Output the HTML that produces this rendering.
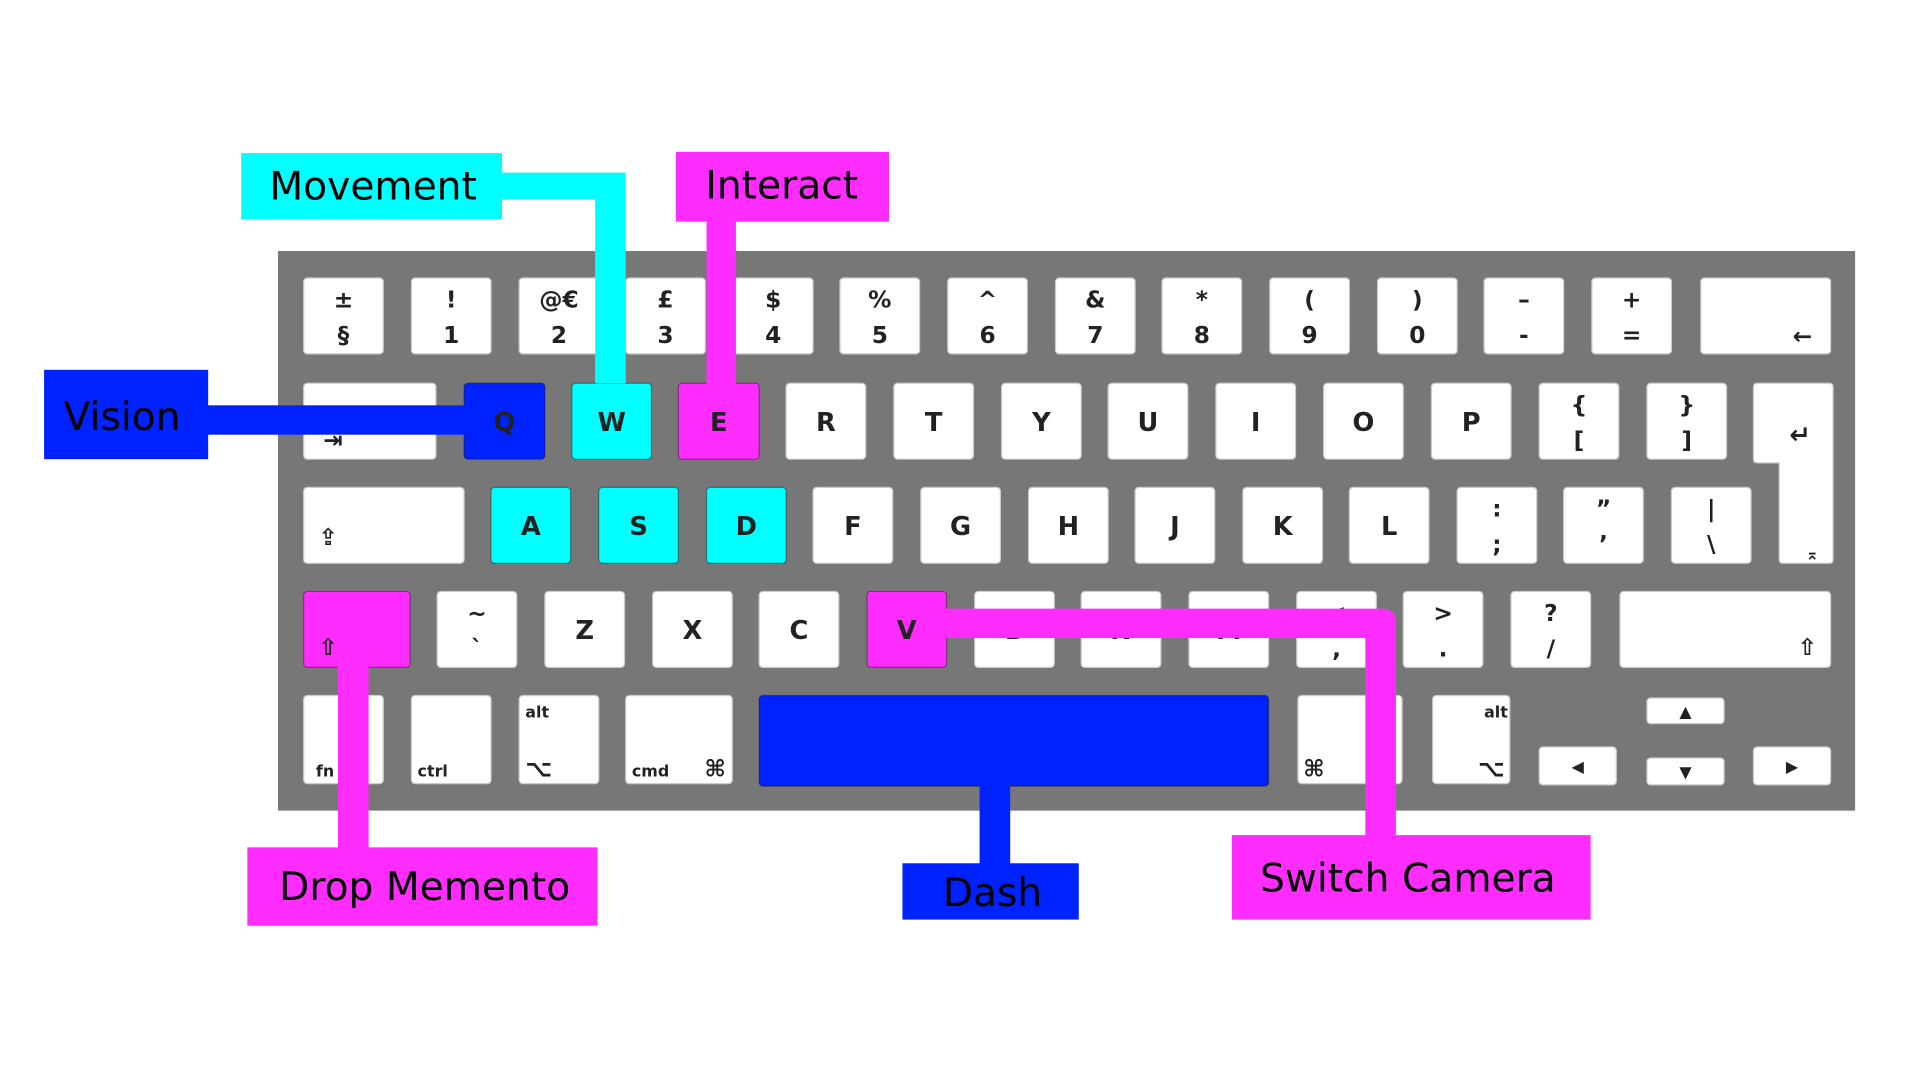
<!DOCTYPE html>
<html><head><meta charset="utf-8"><style>
html,body{margin:0;padding:0;background:#fff;}
svg{display:block;}
text{font-family:"DejaVu Sans","Liberation Sans",sans-serif;}
.k{font-weight:bold;font-size:21px;fill:#222;text-anchor:middle;}
.s{font-weight:bold;font-size:19px;fill:#222;text-anchor:middle;}
.m{font-weight:bold;font-size:13px;fill:#222;}
.lab{font-size:32px;fill:#000;}
</style></head><body>
<svg id="kb" width="1920" height="1080" viewBox="0 0 1568 882" preserveAspectRatio="none" xmlns="http://www.w3.org/2000/svg">
<rect x="227" y="205" width="1288" height="457" fill="#777"/>
<g id="keys"></g>
<g>
<path d="M405 141 H511 V313 H486 V163 H405 Z" fill="#00ffff"/>
<rect x="577" y="178" width="24" height="136" fill="#ff2cff"/>
<rect x="168" y="331" width="222" height="24" fill="#0022ff"/>
<rect x="276" y="540" width="25" height="155" fill="#ff2cff"/>
<rect x="800" y="638" width="25" height="70" fill="#0022ff"/>
<path d="M770 497 H1128 Q1140 497 1140 509 V685 H1115 V521 H770 Z" fill="#ff2cff"/>
</g>
<g>
<rect x="197" y="125" width="213" height="54" fill="#00ffff"/>
<text class="lab" x="220" y="163">Movement</text>
<rect x="552" y="124" width="174" height="57" fill="#ff2cff"/>
<text class="lab" x="576" y="162">Interact</text>
<rect x="36" y="302" width="134" height="73" fill="#0022ff"/>
<text class="lab" x="52" y="351">Vision</text>
<rect x="202" y="692" width="286" height="64" fill="#ff2cff"/>
<text class="lab" x="228" y="735">Drop Memento</text>
<rect x="737" y="705" width="144" height="46" fill="#0022ff"/>
<text class="lab" x="770" y="740">Dash</text>
<rect x="1006" y="682" width="293" height="69" fill="#ff2cff"/>
<text class="lab" x="1029" y="728">Switch Camera</text>
</g>
</svg>
<script>
var NS="http://www.w3.org/2000/svg";
var g=document.getElementById('keys');
var W="#fff",C="#00ffff",M="#ff2cff",B="#0022ff";
var keys=[
[248,227,65,62,W,"±","§","key-section"],[336,227,65,62,W,"!","1","key-1"],[424,227,65,62,W,"@€","2","key-2"],
[511,227,65,62,W,"£","3","key-3"],[599,227,65,62,W,"$","4","key-4"],[686,227,65,62,W,"%","5","key-5"],
[774,227,65,62,W,"^","6","key-6"],[862,227,65,62,W,"&","7","key-7"],[949,227,65,62,W,"*","8","key-8"],
[1037,227,65,62,W,"(","9","key-9"],[1125,227,65,62,W,")","0","key-0"],[1212,227,65,62,W,"–","-","key-minus"],
[1300,227,65,62,W,"+","=","key-equals"],[1389,227,106,62,W,"","","key-backspace"],
[248,313,108,62,W,"","","key-tab"],[379,313,66,62,B,"Q","","key-q"],[467,313,65,62,C,"W","","key-w"],
[554,313,66,62,M,"E","","key-e"],[642,313,65,62,W,"R","","key-r"],[730,313,65,62,W,"T","","key-t"],
[818,313,65,62,W,"Y","","key-y"],[905,313,65,62,W,"U","","key-u"],[993,313,65,62,W,"I","","key-i"],
[1081,313,65,62,W,"O","","key-o"],[1169,313,65,62,W,"P","","key-p"],[1257,313,65,62,W,"{","[","key-lbrace"],
[1345,313,65,62,W,"}","]","key-rbrace"],
[248,398,131,62,W,"","","key-caps"],[401,398,65,62,C,"A","","key-a"],[489,398,65,62,C,"S","","key-s"],
[577,398,65,62,C,"D","","key-d"],[664,398,65,62,W,"F","","key-f"],[752,398,65,62,W,"G","","key-g"],
[840,398,65,62,W,"H","","key-h"],[927,398,65,62,W,"J","","key-j"],[1015,398,65,62,W,"K","","key-k"],
[1102,398,65,62,W,"L","","key-l"],[1190,398,65,62,W,":",";","key-semicolon"],[1277,398,65,62,W,"\u201d","\u2019","key-quote"],
[1365,398,65,62,W,"|","\\","key-backslash"],
[248,483,87,62,M,"","","key-left-shift"],[357,483,65,62,W,"~","`","key-tilde"],[445,483,65,62,W,"Z","","key-z"],
[533,483,65,62,W,"X","","key-x"],[620,483,65,62,W,"C","","key-c"],[708,483,65,62,M,"V","","key-v"],
[796,483,65,62,W,"B","","key-b"],[883,483,65,62,W,"N","","key-n"],[971,483,65,62,W,"M","","key-m"],
[1059,483,65,62,W,"<",",","key-comma"],[1146,483,65,62,W,">",".","key-period"],[1234,483,65,62,W,"?","/","key-slash"],
[1323,483,172,62,W,"","","key-right-shift"],
[248,568,65,72,W,"","","key-fn"],[336,568,65,72,W,"","","key-ctrl"],[424,568,65,72,W,"","","key-alt-left"],
[511,568,87,72,W,"","","key-cmd-left"],[620,568,416,74,B,"","","key-space"],[1060,568,85,72,W,"","","key-cmd-right"],
[1170,568,63,72,W,"","","key-alt-right"],
[1345,570,63,21,W,"▲","","key-up"],[1257,610,63,31,W,"◀","","key-left"],[1345,619,63,22,W,"▼","","key-down"],[1432,610,63,31,W,"▶","","key-right"]
];
function txt(x,y,s,cls){var t=document.createElementNS(NS,'text');t.setAttribute('x',x);t.setAttribute('y',y);t.setAttribute('class',cls);t.textContent=s;g.appendChild(t);return t;}
keys.forEach(function(k){
  var r=document.createElementNS(NS,'rect');
  
  
  r.setAttribute('x',k[0]);r.setAttribute('y',k[1]);r.setAttribute('width',k[2]);r.setAttribute('height',k[3]);
  r.setAttribute('rx',3);r.setAttribute('fill',k[4]);
  r.setAttribute('stroke',k[4]==W?'#ccc':'rgba(0,0,0,0.35)');r.setAttribute('stroke-width',1);
  g.appendChild(r);
  var cx=k[0]+k[2]/2;
  if(k[7]=='key-up'||k[7]=='key-left'||k[7]=='key-down'||k[7]=='key-right'){
    var t=txt(cx,k[1]+k[3]/2+5,k[5],'m');t.setAttribute('text-anchor','middle');t.setAttribute('font-size','12');
  } else if(k[6]){ txt(cx,k[1]+24,k[5],'s'); txt(cx,k[1]+53,k[6],'s'); }
  else if(k[5]){ txt(cx,k[1]+39,k[5],'k'); }
});
txt(1472,281,"←","s");
txt(272,366,"⇥","s");
txt(268,445,"⇪","s");
txt(268,535,"⇧","s");
txt(1476,535,"⇧","s");
var fn=[[258,634,"fn"],[341,634,"ctrl"],[429,586,"alt"],[516,634,"cmd"],[1212,586,"alt"]];
fn.forEach(function(f){txt(f[0],f[1],f[2],'m');});
txt(440,634,"⌥","s");txt(584,634,"⌘","s");txt(1073,634,"⌘","s");txt(1218,634,"⌥","s");
var e1=document.createElementNS(NS,'path');


e1.setAttribute('d','M1432 316 Q1432 313 1435 313 H1494 Q1497 313 1497 316 V457 Q1497 460 1494 460 H1456 Q1453 460 1453 457 V378 H1435 Q1432 378 1432 375 Z');
e1.setAttribute('fill','#fff');e1.setAttribute('stroke','#ccc');
g.appendChild(e1);
txt(1470,362,"↵","k");
txt(1480,457,"⌅","m").setAttribute('text-anchor','middle');
</script>
</body></html>
